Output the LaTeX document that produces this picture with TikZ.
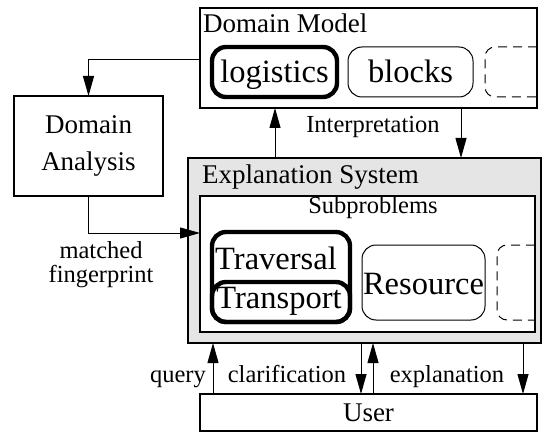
\documentclass[tikz,border=0pt]{standalone}
\usepackage{fontspec}
\setmainfont{Liberation Serif}
\usetikzlibrary{arrows.meta}
\begin{document}
\begin{tikzpicture}[x=1pt,y=-1pt,
  box/.style={draw,line width=1.1pt,inner sep=0pt,outer sep=0pt},
  thickbox/.style={draw,line width=4.4pt,rounded corners=14pt,inner sep=0pt},
  thinround/.style={draw,line width=1pt,rounded corners=14pt,inner sep=0pt},
  dashbox/.style={draw,line width=1pt,dash pattern=on 9pt off 6pt,rounded corners=10pt},
  arr/.style={line width=1pt,-{Triangle[length=20pt,width=11pt]}},
  ttl/.style={font=\fontsize{27}{30}\selectfont,inner sep=0pt,anchor=base west},
  lbl/.style={font=\fontsize{24.5}{27}\selectfont,inner sep=0pt,anchor=base},
  big/.style={font=\fontsize{32.5}{36}\selectfont,inner sep=0pt,anchor=base}]
\useasboundingbox (0,0) rectangle (546,433);
% Domain Model
\node[box,minimum width=337pt,minimum height=100pt] (dm) at (368.5,58) {};
\node[ttl] (dmt) at (203,33) {Domain Model};
\node[thickbox,minimum width=125pt,minimum height=50pt] (log) at (274.5,72) {};
\node[big] (logt) at (274.5,83) {logistics};
\node[thinround,minimum width=125pt,minimum height=50pt] (blk) at (410.5,72) {};
\node[big] (blkt) at (410.5,83) {blocks};
\draw[dashbox] (537,47) -- (485,47) -- (485,97) -- (537,97);
% Domain Analysis
\node[box,minimum width=149pt,minimum height=100pt] (da) at (88.5,146) {};
\node[lbl,font=\fontsize{27}{30}\selectfont] (dat1) at (88.5,134) {Domain};
\node[lbl,font=\fontsize{27}{30}\selectfont] (dat2) at (88.5,170) {Analysis};
% Explanation System
\node[box,fill=gray!20,minimum width=353pt,minimum height=185pt] (es) at (364.5,250.5) {};
\node[ttl] (est) at (202,183) {Explanation System};
\node[box,fill=white,minimum width=335pt,minimum height=136pt] (sp) at (367.5,264) {};
\node[lbl] (spt) at (373,213) {Subproblems};
\node[thickbox,minimum width=138pt,minimum height=90pt] (trv) at (281,277) {};
\node[thickbox,minimum width=138pt,minimum height=40pt] (trp) at (281,302) {};
\node[big] (trvt) at (276,269) {Traversal};
\node[big] (trpt) at (279,308) {Transport};
\node[thinround,minimum width=123pt,minimum height=75pt] (res) at (423.5,282.5) {};
\node[big] (rest) at (423.5,294) {Resource};
\draw[dashbox] (535,245) -- (497,245) -- (497,320) -- (535,320);
% User
\node[box,minimum width=337pt,minimum height=37pt] (usr) at (368.5,412.5) {};
\node[lbl,font=\fontsize{27}{30}\selectfont] (usrt) at (368.5,421) {User};
% coordinates
\coordinate (x1) at (275,0);
\coordinate (x2) at (461,0);
\coordinate (xq) at (213,0);
\coordinate (xc) at (361,0);
\coordinate (xu) at (373,0);
\coordinate (xe) at (523,0);
\coordinate (ym) at (0,233);
\coordinate (yd) at (0,60);
% connectors
\draw[arr] (x1 |- es.north) -- (x1 |- dm.south);
\draw[arr] (x2 |- dm.south) -- (x2 |- es.north);
\node[lbl] (interp) at (373,133) {Interpretation};
\draw[arr] (dm.west |- yd) -| (da.north);
\draw[arr] (da.south) |- (sp.west |- ym);
\node[lbl] (mt1) at (101,258) {matched};
\node[lbl] (mt2) at (101,282) {fingerprint};
\draw[arr] (xq |- usr.north) -- (xq |- es.south);
\draw[arr] (xc |- es.south) -- (xc |- usr.north);
\draw[arr] (xu |- usr.north) -- (xu |- es.south);
\draw[arr] (xe |- es.south) -- (xe |- usr.north);
\node[lbl] (q) at (178,382) {query};
\node[lbl] (cl) at (287,382) {clarification};
\node[lbl] (ex) at (447,382) {explanation};
\end{tikzpicture}
\end{document}
